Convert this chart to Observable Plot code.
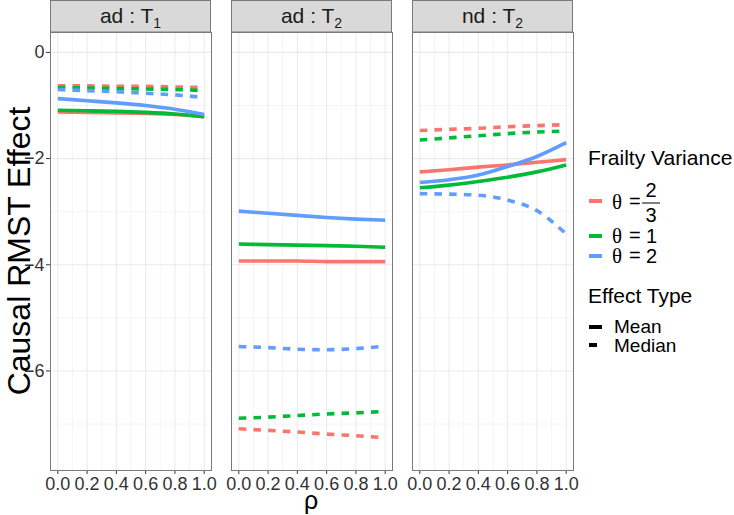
<!DOCTYPE html>
<html>
<head>
<meta charset="utf-8">
<script src="https://cdn.jsdelivr.net/npm/d3@7"></script>
<script src="https://cdn.jsdelivr.net/npm/@observablehq/plot@0.6"></script>
<style>
  html, body { margin: 0; padding: 0; background: #fff; }
  #wrap { position: relative; width: 734px; height: 515px; background: #fff; overflow: hidden;
          font-family: "Liberation Sans", Arial, Helvetica, sans-serif; }
  .pan { position: absolute; top: 32px; }
  #overlay { position: absolute; left: 0; top: 0; pointer-events: none; }
</style>
</head>
<body>
<div id="wrap">
  <div id="p0" class="pan" style="left:0px"></div>
  <div id="p1" class="pan" style="left:231px"></div>
  <div id="p2" class="pan" style="left:412px"></div>
  <svg id="overlay" width="734" height="515"></svg>
</div>
<script>
// ---------- data ----------
const rho = [0, 0.2, 0.4, 0.6, 0.8, 1.0];
const panelNames = ["ad", "ad", "nd"];
const panelSubs = ["1", "2", "2"];
const thetaLevels = ["2/3", "1", "2"];
const thetaColors = ["#F8766D", "#00BA38", "#619CFF"];
const effectTypes = ["Mean", "Median"];
const yTicks = [0, -2, -4, -6];
const yMinor = [-1, -3, -5, -7];
const xMinor = [0.1, 0.3, 0.5, 0.7, 0.9];

// ad : T1
const adT1Mean23   = [-1.12, -1.13, -1.14, -1.15, -1.17, -1.21];
const adT1Mean1    = [-1.09, -1.10, -1.11, -1.13, -1.16, -1.21];
const adT1Mean2    = [-0.87, -0.91, -0.95, -1.00, -1.07, -1.17];
const adT1Median23 = [-0.63, -0.63, -0.64, -0.64, -0.65, -0.66];
const adT1Median1  = [-0.66, -0.67, -0.68, -0.69, -0.70, -0.72];
const adT1Median2  = [-0.70, -0.72, -0.74, -0.77, -0.80, -0.85];
// ad : T2
const adT2Mean23   = [-3.93, -3.93, -3.93, -3.94, -3.94, -3.94];
const adT2Mean1    = [-3.61, -3.62, -3.63, -3.64, -3.65, -3.67];
const adT2Mean2    = [-2.99, -3.03, -3.07, -3.11, -3.14, -3.16];
const adT2Median23 = [-7.09, -7.12, -7.15, -7.19, -7.22, -7.26];
const adT2Median1  = [-6.89, -6.87, -6.84, -6.81, -6.79, -6.76];
const adT2Median2  = [-5.54, -5.56, -5.59, -5.60, -5.58, -5.53];
// nd : T2
const ndT2Mean23   = [-2.25, -2.21, -2.16, -2.12, -2.07, -2.02];
const ndT2Mean1    = [-2.55, -2.50, -2.43, -2.35, -2.25, -2.12];
const ndT2Mean2    = [-2.45, -2.40, -2.31, -2.15, -1.96, -1.70];
const ndT2Median23 = [-1.47, -1.45, -1.43, -1.40, -1.38, -1.36];
const ndT2Median1  = [-1.65, -1.61, -1.57, -1.53, -1.50, -1.48];
const ndT2Median2  = [-2.66, -2.67, -2.69, -2.78, -2.98, -3.42];

const series = [
  [ [adT1Mean23, adT1Median23], [adT1Mean1, adT1Median1], [adT1Mean2, adT1Median2] ],
  [ [adT2Mean23, adT2Median23], [adT2Mean1, adT2Median1], [adT2Mean2, adT2Median2] ],
  [ [ndT2Mean23, ndT2Median23], [ndT2Mean1, ndT2Median1], [ndT2Mean2, ndT2Median2] ]
];

// ---------- layout ----------
const panelW = 161, panelH = 438, mBottom = 45;
const panelLeft = [50, 231, 412];
const FONT = '"Liberation Sans", Arial, Helvetica, sans-serif';

function makePanel(p) {
  const showY = p === 0;
  const ml = showY ? 50 : 0;
  const marks = [
    Plot.ruleY(yMinor, {stroke: "#EFEFEF", strokeWidth: 0.6}),
    Plot.ruleX(xMinor, {stroke: "#EFEFEF", strokeWidth: 0.6}),
    Plot.ruleY(yTicks, {stroke: "#EBEBEB", strokeWidth: 1.1}),
    Plot.ruleX(rho, {stroke: "#EBEBEB", strokeWidth: 1.1})
  ];
  thetaLevels.forEach((th, k) => {
    effectTypes.forEach((et, t) => {
      const vals = series[p][k][t];
      const rows = rho.map((r, i) => ({rho: r, value: vals[i], theta: th, type: et}));
      const opts = {x: "rho", y: "value", stroke: "theta", strokeWidth: 3.6, curve: "monotone-x", strokeLinecap: "butt"};
      if (et === "Median") opts.strokeDasharray = "7.5,7.2";
      marks.push(Plot.line(rows, opts));
    });
  });
  marks.push(Plot.frame({stroke: "#7a7a7a", strokeWidth: 1}));
  return Plot.plot({
    width: panelW + ml,
    height: panelH + mBottom,
    marginLeft: ml, marginRight: 0, marginTop: 0, marginBottom: mBottom,
    x: {domain: [-0.05, 1.05], ticks: rho, tickFormat: d3.format(".1f"), tickSize: 4, tickPadding: 3, label: null},
    y: {domain: [-7.875, 0.375], ticks: yTicks, tickFormat: d3.format("d"), tickSize: 4, tickPadding: 2, label: null, axis: showY ? "left" : null},
    color: {domain: thetaLevels, range: thetaColors},
    style: {fontFamily: FONT, fontSize: "18px", color: "#333", background: "transparent", overflow: "visible"},
    marks
  });
}

for (let p = 0; p < 3; p++) {
  document.getElementById("p" + p).appendChild(makePanel(p));
}

// ---------- overlay: strips, axis titles, legend ----------
const svg = d3.select("#overlay").style("font-family", FONT);

panelLeft.forEach((x0, p) => {
  svg.append("rect").attr("x", x0 + 0.5).attr("y", 0.5).attr("width", panelW - 1).attr("height", 31.5)
    .attr("fill", "#D9D9D9").attr("stroke", "#7a7a7a").attr("stroke-width", 1);
  const t = svg.append("text").attr("x", x0 + panelW / 2).attr("y", 23).attr("text-anchor", "middle")
    .attr("font-size", 21).attr("fill", "#1A1A1A");
  t.append("tspan").text(panelNames[p] + " : T");
  t.append("tspan").attr("dy", 5).attr("font-size", 14).text(panelSubs[p]);
});

svg.append("text").attr("transform", "translate(30,251) rotate(-90)").attr("text-anchor", "middle")
  .attr("font-size", 32).attr("fill", "#000").text("Causal RMST Effect");
svg.append("text").attr("x", 311).attr("y", 509).attr("text-anchor", "middle")
  .attr("font-size", 25).attr("fill", "#000").text("ρ");

// legend
const lg = svg.append("g");
lg.append("text").attr("x", 588).attr("y", 165).attr("font-size", 21).attr("fill", "#000").text("Frailty Variance");
const keyY = [201, 236, 256];
const labelBase = [209, 243, 263];
const SERIF = '"Liberation Serif", "DejaVu Serif", serif';
thetaLevels.forEach((th, k) => {
  lg.append("line").attr("x1", 589).attr("x2", 602).attr("y1", keyY[k]).attr("y2", keyY[k])
    .attr("stroke", thetaColors[k]).attr("stroke-width", 4);
  lg.append("text").attr("x", 612).attr("y", labelBase[k]).attr("font-size", 21).attr("font-family", SERIF)
    .attr("fill", "#000").text("θ");
  lg.append("text").attr("x", 629).attr("y", labelBase[k] - 1).attr("font-size", 20).attr("fill", "#000").text("=");
  if (th === "2/3") {
    lg.append("text").attr("x", 651).attr("y", 197).attr("text-anchor", "middle").attr("font-size", 20).attr("fill", "#000").text("2");
    lg.append("line").attr("x1", 642).attr("x2", 660).attr("y1", 203).attr("y2", 203).attr("stroke", "#000").attr("stroke-width", 1);
    lg.append("text").attr("x", 651).attr("y", 222).attr("text-anchor", "middle").attr("font-size", 20).attr("fill", "#000").text("3");
  } else {
    lg.append("text").attr("x", 646).attr("y", labelBase[k]).attr("font-size", 20).attr("fill", "#000").text(th);
  }
});
lg.append("text").attr("x", 588).attr("y", 303).attr("font-size", 21).attr("fill", "#000").text("Effect Type");
const etY = [327, 345], etBase = [333, 352];
effectTypes.forEach((et, t) => {
  lg.append("line").attr("x1", 589).attr("x2", t === 0 ? 602 : 597).attr("y1", etY[t]).attr("y2", etY[t])
    .attr("stroke", "#000").attr("stroke-width", 4);
  lg.append("text").attr("x", 614).attr("y", etBase[t]).attr("font-size", 19).attr("fill", "#000").text(et);
});
</script>
</body>
</html>
